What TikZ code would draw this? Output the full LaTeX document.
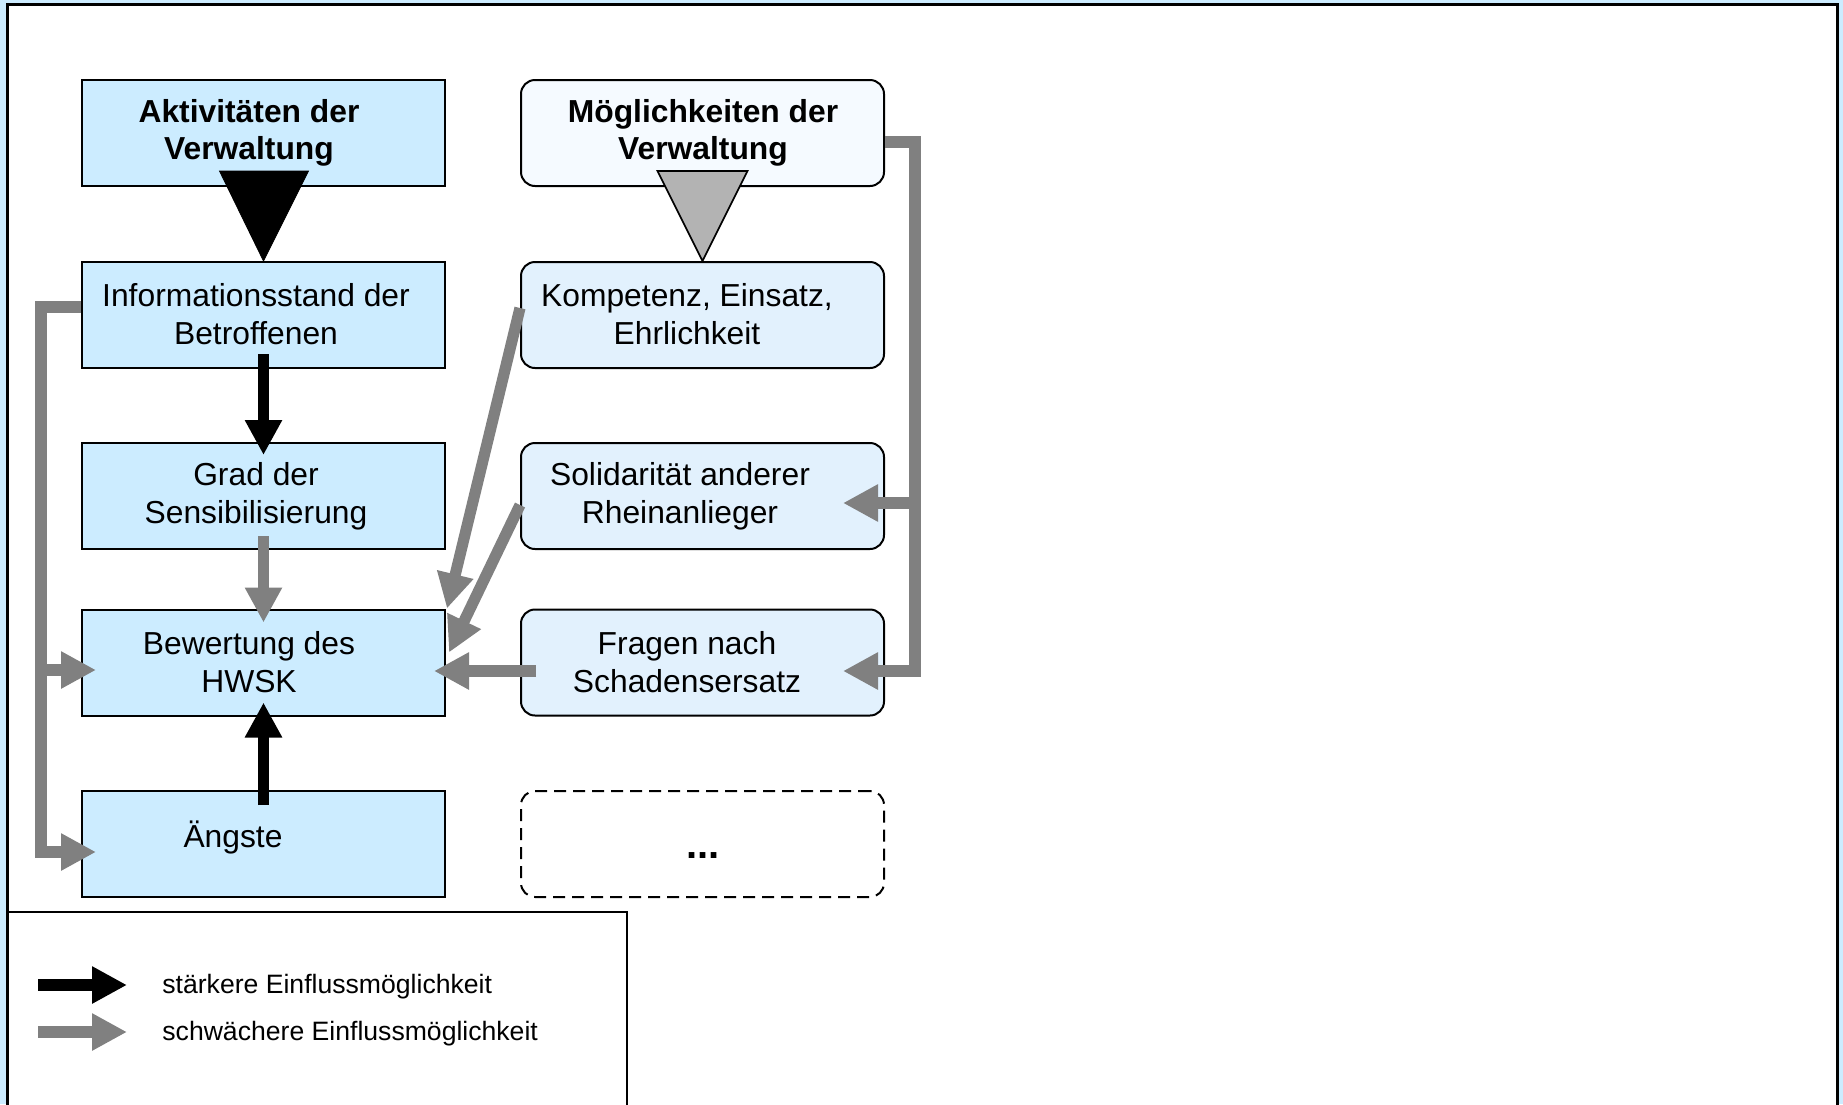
\documentclass[tikz,border=0pt]{standalone}
\usepackage{fontspec}
\setmainfont{Liberation Sans}
\usetikzlibrary{arrows.meta}
\definecolor{boxblue}{HTML}{CCECFF}
\definecolor{paleblue}{HTML}{E2F1FD}
\definecolor{whiteblue}{HTML}{F5FAFF}
\definecolor{arrowgray}{HTML}{808080}
\definecolor{trigray}{HTML}{B3B3B3}
\begin{document}
\begin{tikzpicture}[x=0.5pt,y=-0.5pt,
    box/.style={draw,line width=1pt,fill=boxblue,minimum width=181.5pt,minimum height=53pt,inner sep=0pt},
    rbox/.style={box,rounded corners=7pt,fill=paleblue},
    txt/.style={align=center,inner sep=0pt,font=\fontsize{15.9}{18.8}\selectfont},
    legtxt/.style={anchor=west,inner sep=0pt,font=\fontsize{13.3}{16}\selectfont},
    strong/.style={line width=5.6pt,-{Triangle[length=17.5pt,width=17.5pt]}},
    weak/.style={strong,color=arrowgray}]
    \useasboundingbox (0,0) rectangle (1843,1104);
    \fill[boxblue] (0,0) rectangle (1843,1104);% background
    \draw[line width=1.5pt,fill=white] (7,4) rectangle (1837,1112);% frame
    % left column
    \node[box] (akt) at (263.5,133) {};
    \node[box] (info) at (263.5,315) {};
    \node[box] (grad) at (263.5,496) {};
    \node[box] (bew) at (263.5,662.5) {};
    \node[box] (angst) at (263.5,844) {};
    % right column
    \node[rbox,fill=whiteblue] (moeg) at (702.5,133) {};
    \node[rbox] (komp) at (702.5,315) {};
    \node[rbox] (soli) at (702.5,496) {};
    \node[rbox] (frag) at (702.5,662.5) {};
    \node[rbox,fill=white,dash pattern=on 6pt off 3.5pt] (mehr) at (702.5,844) {};
    % texts
    \node[txt,font=\fontsize{15.9}{18.8}\selectfont\bfseries] (aktT) at (249,133) {Aktivitäten der\\Verwaltung};
    \node[txt] (infoT) at (256,314) {Informationsstand der\\Betroffenen};
    \node[txt] (gradT) at (256,496) {Grad der\\Sensibilisierung};
    \node[txt] (bewT) at (249,662) {Bewertung des\\HWSK};
    \node[txt] (angstT) at (233,837) {Ängste};
    \node[txt,font=\fontsize{15.9}{18.8}\selectfont\bfseries] (moegT) at (703,133) {Möglichkeiten der\\Verwaltung};
    \node[txt] (kompT) at (687,314) {Kompetenz, Einsatz,\\Ehrlichkeit};
    \node[txt] (soliT) at (680,496) {Solidarität anderer\\Rheinanlieger};
    \node[txt] (fragT) at (687,662) {Fragen nach\\Schadensersatz};
    \node[txt,anchor=base,font=\fontsize{20}{22}\selectfont\bfseries] (mehrT) at (703,858) {...};
    % big triangles
    \filldraw[fill=black] ([shift={(-44,-16)}]akt.south) -- ([shift={(45,-16)}]akt.south) -- (info.north) -- cycle;
    \filldraw[fill=trigray,line width=0.8pt] ([shift={(-45,-16)}]moeg.south) -- ([shift={(45,-16)}]moeg.south) -- (komp.north) -- cycle;
    % arrows in the left column
    \draw[strong] ([shift={(0,-15)}]info.south) -- ([shift={(0,13)}]grad.north);
    \draw[weak] ([shift={(0,-14)}]grad.south) -- ([shift={(0,14)}]bew.north);
    \draw[strong] ([shift={(0,15)}]angst.north) -- ([shift={(0,-14)}]bew.south);
    % left feedback line
    \draw[weak] ([shift={(0,-8)}]info.west) -- (41,307) -- (41,852) -- ([shift={(15,8)}]angst.west);
    \coordinate (lbus) at (41,670);
    \draw[weak] (lbus) -- ([shift={(15,7.5)}]bew.west);
    % right column to Bewertung
    \draw[weak] ([shift={(0,-7)}]komp.west) -- ([shift={(1,0)}]bew.north east);
    \draw[weak] ([shift={(0,9)}]soli.west) -- ([shift={(3,-10)}]bew.east);
    \draw[weak] ([shift={(16,8.5)}]frag.west) -- ([shift={(-12,8.5)}]bew.east);
    % right feedback line
    \draw[weak] ([shift={(0,9)}]moeg.east) -- (915,142) -- (915,671) -- ([shift={(-42,8.5)}]frag.east);
    \coordinate (rbus) at (915,503);
    \draw[weak] (rbus) -- ([shift={(-42,7)}]soli.east);
    % legend
    \draw[line width=1pt] (7,1112) -- (7,912) -- (627,912) -- (627,1112);
    \node[legtxt] (lgs) at (162,987) {stärkere Einflussmöglichkeit};
    \node[legtxt] (lgw) at (162,1034) {schwächere Einflussmöglichkeit};
    \draw[strong] ([shift={(-124,-2)}]lgs.west) -- ([shift={(-35,-2)}]lgs.west);
    \draw[weak] ([shift={(-124,-2)}]lgw.west) -- ([shift={(-35,-2)}]lgw.west);
\end{tikzpicture}
\end{document}
